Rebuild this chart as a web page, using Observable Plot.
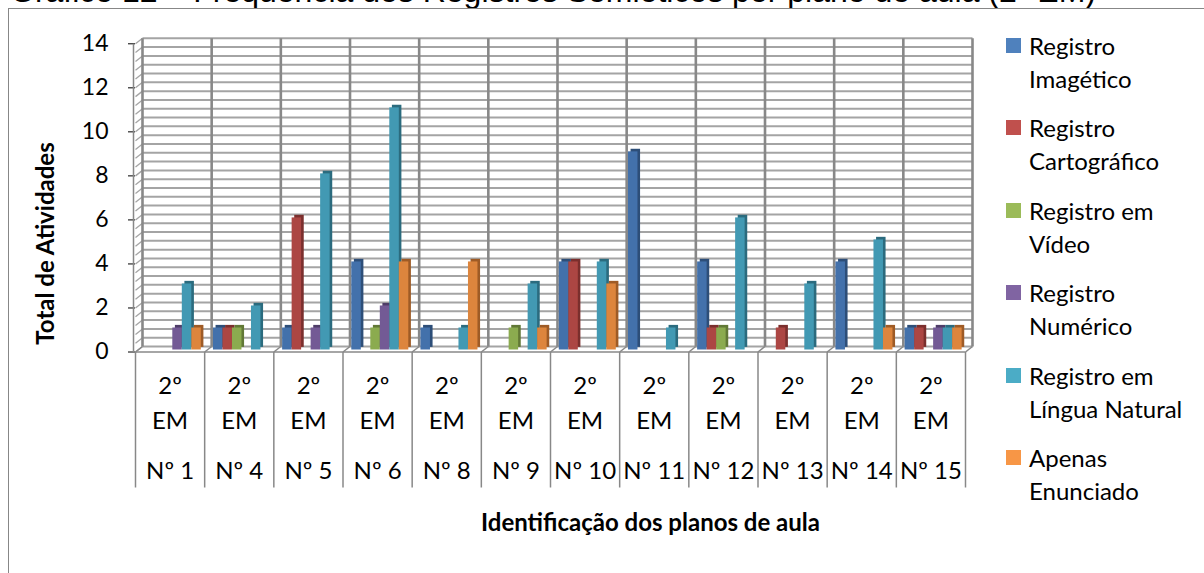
<!DOCTYPE html>
<html>
<head>
<meta charset="utf-8">
<script src="https://cdn.jsdelivr.net/npm/d3@7"></script>
<script src="https://cdn.jsdelivr.net/npm/@observablehq/plot@0.6"></script>
<style>
  html, body { margin: 0; padding: 0; background: #fff; overflow: hidden; }
  body { width: 1204px; height: 573px; position: relative; font-family: Lato, "Open Sans", sans-serif; }
  #title { position: absolute; left: 10px; top: -25px; font-family: "Liberation Sans", Arial, sans-serif;
           font-size: 32px; line-height: 32px; white-space: nowrap; color: #000; }
  #frame { position: absolute; left: 8px; top: 8px; width: 1300px; height: 700px;
           border-left: 1.5px solid #878787; border-top: 1.5px solid #878787; }
  #chart { position: absolute; left: 0; top: 0; }
  .item { position: absolute; left: 1006px; }
  .sw { position: absolute; left: 0; width: 15px; height: 15px; }
  .lab { position: absolute; left: 23px; font-size: 24px; line-height: 33px; white-space: nowrap; color: #000; }
</style>
</head>
<body>
<div id="title">Gráfico 12 – Frequência dos Registros Semióticos por plano de aula (2º EM)</div>
<div id="frame"></div>
<div id="chart"></div>
<div id="legend"></div>
<script>
// Lesson plans (categories) and the two-line class label above each
const plans = ["Nº 1", "Nº 4", "Nº 5", "Nº 6", "Nº 8", "Nº 9", "Nº 10", "Nº 11", "Nº 12", "Nº 13", "Nº 14", "Nº 15"];
const grade = ["2º", "EM"];

// Series names and counts of activities per lesson plan
const seriesNames = ["Registro Imagético", "Registro Cartográfico", "Registro em Vídeo",
                     "Registro Numérico", "Registro em Língua Natural", "Apenas Enunciado"];
const legendLines = [["Registro", "Imagético"], ["Registro", "Cartográfico"], ["Registro em", "Vídeo"],
                     ["Registro", "Numérico"], ["Registro em", "Língua Natural"], ["Apenas", "Enunciado"]];
const imagetico     = [0, 1, 1, 4, 1, 0, 4, 9, 4, 0, 4, 1];
const cartografico  = [0, 1, 6, 0, 0, 0, 4, 0, 1, 1, 0, 1];
const video         = [0, 1, 0, 1, 0, 1, 0, 0, 1, 0, 0, 0];
const numerico      = [1, 0, 1, 2, 0, 0, 0, 0, 0, 0, 0, 1];
const linguaNatural = [3, 2, 8, 11, 1, 3, 4, 1, 6, 3, 5, 1];
const enunciado     = [1, 0, 0, 4, 4, 1, 3, 0, 0, 0, 1, 1];

const yTicks = [0, 2, 4, 6, 8, 10, 12, 14];
const yTitle = "Total de Atividades";
const xTitle = "Identificação dos planos de aula";

// Colours: front face, shaded side, legend swatch
const faceColors = ["#4371AB", "#AC4643", "#8BAB4F", "#735A95", "#4299B3", "#DD853D"];
const sideColors = ["#2D4E78", "#7A2F2D", "#617836", "#4F3D68", "#2B6B7E", "#9E5B26"];
const swatchColors = ["#4F81BD", "#C0504D", "#9BBB59", "#8064A2", "#4BACC6", "#F79646"];

const series = [imagetico, cartografico, video, numerico, linguaNatural, enunciado];
const rows = [];
series.forEach((vals, s) => vals.forEach((v, i) => {
  if (v > 0) rows.push({i, s, name: seriesNames[s], plan: plans[i], value: v});
}));

// Geometry of the pseudo-3D box (in scale units)
const W = 1204, H = 573;
const boxL = 135, boxR = 965, boxT = 43.3, boxB = 351.5;
const pxX = (boxR - boxL) / plans.length;   // pixels per category
const pxY = (boxB - boxT) / 14;             // pixels per unit
const depthX = 7 / pxX, depthY = 5.5 / pxY; // back wall offset
const slotOff = 8.8 / pxX, slotW = 9.5 / pxX;
const tableDepth = -(487 - boxB) / pxY;     // label grid extends below the floor

const minor = d3.range(0, 14.0001, 0.4).map(v => +v.toFixed(1));
const seps = d3.range(0, plans.length + 1);

const grid = "#a4a4a4", dark = "#888888";

const chart = Plot.plot({
  width: W, height: H,
  marginLeft: boxL, marginRight: W - boxR, marginTop: boxT, marginBottom: H - boxB,
  style: {fontFamily: "Lato, sans-serif", fontSize: "23px", color: "#000", background: "transparent"},
  x: {domain: [0, plans.length], axis: null},
  y: {domain: [0, 14], ticks: yTicks, tickSize: 7, tickPadding: 20, label: null, line: false},
  marks: [
    // back wall gridlines
    Plot.link(minor, {x1: depthX, x2: plans.length + depthX, y1: d => d + depthY, y2: d => d + depthY,
                      stroke: grid, strokeWidth: 2}),
    // side wall diagonals
    Plot.link(minor, {x1: 0, x2: depthX, y1: d => d, y2: d => d + depthY, stroke: grid, strokeWidth: 1.3}),
    // back wall verticals at category borders
    Plot.link(seps, {x1: d => d + depthX, x2: d => d + depthX, y1: depthY, y2: 14 + depthY,
                     stroke: dark, strokeWidth: 2.6}),
    // floor
    Plot.link(seps, {x1: d => d, x2: d => d + depthX, y1: 0, y2: depthY, stroke: dark, strokeWidth: 1.5}),
    Plot.link([0], {x1: 0, x2: plans.length, y1: 0, y2: 0, stroke: dark, strokeWidth: 1.5}),
    // front left axis line
    Plot.link([0], {x1: 0, x2: 0, y1: 0, y2: 14, stroke: dark, strokeWidth: 1.5, dx: -2}),
    // label table separators
    Plot.link(seps, {x1: d => d, x2: d => d, y1: 0, y2: tableDepth, stroke: dark, strokeWidth: 1.5}),
    // bar side/top shading, then the front faces
    Plot.rectY(rows, {x1: d => d.i + slotOff + d.s * slotW, x2: d => d.i + slotOff + (d.s + 1) * slotW,
                      y1: 0, y2: "value", fill: d => sideColors[d.s], dx: 2.6, dy: -4.6}),
    Plot.rectY(rows, {x1: d => d.i + slotOff + d.s * slotW, x2: d => d.i + slotOff + (d.s + 1) * slotW,
                      y1: 0, y2: "value", fill: d => faceColors[d.s], dy: -2}),
    // category labels
    Plot.text(plans, {x: (d, i) => i + 0.5, y: 0, text: () => grade[0], dy: 34, fontSize: 24}),
    Plot.text(plans, {x: (d, i) => i + 0.5, y: 0, text: () => grade[1], dy: 69, fontSize: 24}),
    Plot.text(plans, {x: (d, i) => i + 0.5, y: 0, text: d => d, dy: 119, fontSize: 24}),
    // axis titles
    Plot.text([yTitle], {frameAnchor: "left", textAnchor: "middle", rotate: -90, dx: 46 - boxL,
                         dy: 243 - (boxT + boxB) / 2, fontWeight: "bold", fontSize: 24}),
    Plot.text([xTitle], {x: (650 - boxL) / pxX, y: 0, dy: 523 - boxB, fontWeight: "bold", fontSize: 24})
  ]
});
document.getElementById("chart").appendChild(chart);

// Legend to the right of the plot
const legend = document.getElementById("legend");
legendLines.forEach((lines, k) => {
  const cy = 45 + 82.5 * k;
  const item = document.createElement("div");
  item.className = "item";
  item.style.top = (cy - 16.5) + "px";
  item.innerHTML = `<div class="sw" style="top:9px;background:${swatchColors[k]}"></div>` +
                   `<div class="lab" style="top:0">${lines[0]}<br>${lines[1]}</div>`;
  legend.appendChild(item);
});
</script>
</body>
</html>
